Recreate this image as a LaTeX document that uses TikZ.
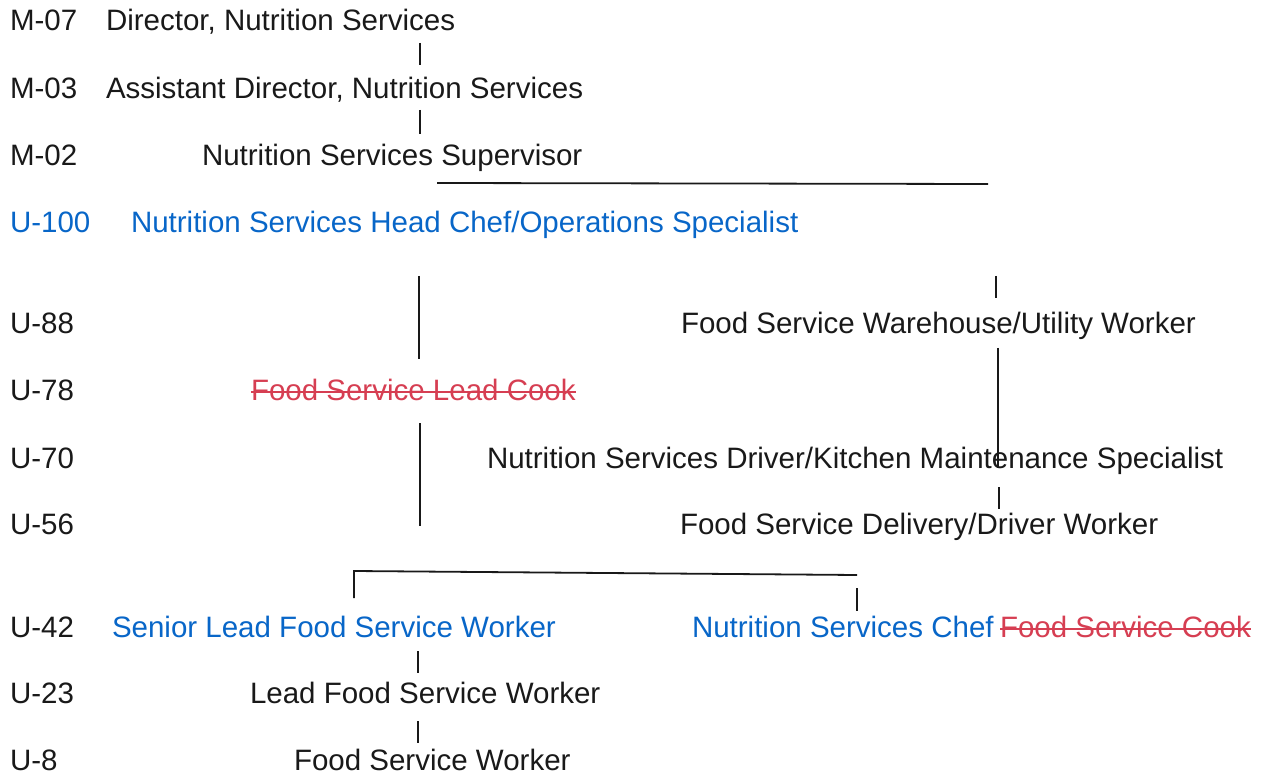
\documentclass[tikz,border=0pt]{standalone}
\usepackage{fontspec}
\setmainfont{Liberation Sans}
\definecolor{ink}{RGB}{25,25,25}
\definecolor{blu}{RGB}{8,102,200}
\definecolor{strk}{RGB}{214,62,82}
\begin{document}
\begin{tikzpicture}[x=1pt,y=-1pt,
  txt/.style={anchor=base west, inner sep=0pt, outer sep=0pt, font=\fontsize{29.5}{35}\selectfont, text=ink},
  bluetxt/.style={txt, text=blu},
  redtxt/.style={txt, text=strk},
  conn/.style={draw=ink, line width=1.8pt},
  strikeline/.style={draw=strk, line width=1.3pt}]
\useasboundingbox (0,0) rectangle (1263,775);
% grade labels
\node[txt] (g1) at (10,30.5) {M-07};
\node[txt] (g2) at (10,98.5) {M-03};
\node[txt] (g3) at (10,166) {M-02};
\node[bluetxt] (g4) at (10,232.5) {U-100};
\node[txt] (g5) at (10,333.5) {U-88};
\node[txt] (g6) at (10,400.5) {U-78};
\node[txt] (g7) at (10,468.5) {U-70};
\node[txt] (g8) at (10,534.5) {U-56};
\node[txt] (g9) at (10,637.5) {U-42};
\node[txt] (g10) at (10,703.5) {U-23};
\node[txt] (g11) at (10,770.5) {U-8};
% titles
\node[txt] (dir) at (106,30.5) {Director, Nutrition Services};
\node[txt] (adir) at (106,98.5) {Assistant Director, Nutrition Services};
\node[txt] (sup) at (202,166) {Nutrition Services Supervisor};
\node[bluetxt] (head) at (131,232.5) {Nutrition Services Head Chef/Operations Specialist};
\node[txt] (ware) at (681,333.5) {Food Service Warehouse/Utility Worker};
\node[redtxt] (lcook) at (251,400.5) {Food Service Lead Cook};
\node[txt] (drv) at (487,468.5) {Nutrition Services Driver/Kitchen Maintenance Specialist};
\node[txt] (dlv) at (680,534.5) {Food Service Delivery/Driver Worker};
\node[bluetxt] (slead) at (112,637.5) {Senior Lead Food Service Worker};
\node[bluetxt] (chef) at (692,637.5) {Nutrition Services Chef};
\node[redtxt] (cook) at (1000,637.5) {Food Service Cook};
\node[txt] (lead) at (250,703.5) {Lead Food Service Worker};
\node[txt] (fsw) at (294,770.5) {Food Service Worker};
% strike-throughs
\draw[strikeline] ([yshift=8.5pt]lcook.base west) -- ([yshift=8.5pt]lcook.base east);
\draw[strikeline] ([yshift=8.5pt]cook.base west) -- ([yshift=8.5pt]cook.base east);
% connector end points
\coordinate (a1) at (420,43);  \coordinate (a2) at (420,65);
\coordinate (b1) at (420,110); \coordinate (b2) at (420,134);
\coordinate (h1) at (437,183); \coordinate (h2) at (988,184);
\coordinate (l1) at (419,276); \coordinate (l2) at (419,359);
\coordinate (l3) at (420,423); \coordinate (l4) at (420,526);
\coordinate (r1) at (996,276); \coordinate (r2) at (996,298);
\coordinate (r3) at (998,348); \coordinate (r4) at (998,468);
\coordinate (r5) at (999,487); \coordinate (r6) at (999,509);
\coordinate (k1) at (354,571); \coordinate (k2) at (857,575);
\coordinate (k3) at (354,598);
\coordinate (c1) at (857,588); \coordinate (c2) at (857,611);
\coordinate (s1) at (418,651); \coordinate (s2) at (418,673);
\coordinate (s3) at (418,721); \coordinate (s4) at (418,743);
% connectors
\draw[conn, line width=1.5pt] (a1) -- (a2);
\draw[conn, line width=1.5pt] (b1) -- (b2);
\draw[conn] (h1) -- (h2);
\draw[conn] (l1) -- (l2);
\draw[conn] (l3) -- (l4);
\draw[conn, line width=1.5pt] (r1) -- (r2);
\draw[conn] (r3) -- (r4);
\draw[conn, line width=1.5pt] (r5) -- (r6);
\draw[conn] (k3) -- (k1) -- (k2);
\draw[conn, line width=1.5pt] (c1) -- (c2);
\draw[conn, line width=1.5pt] (s1) -- (s2);
\draw[conn, line width=1.5pt] (s3) -- (s4);
\end{tikzpicture}
\end{document}
